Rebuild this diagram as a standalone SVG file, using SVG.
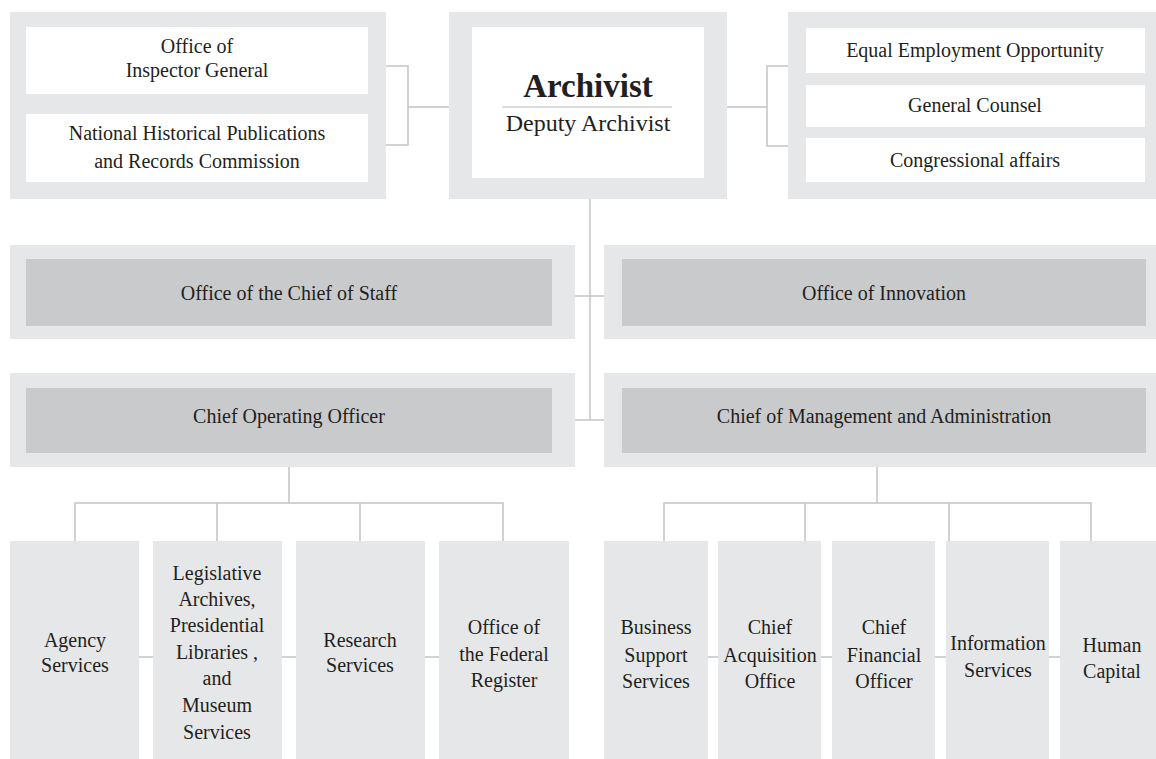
<svg xmlns="http://www.w3.org/2000/svg" width="1156" height="759" viewBox="0 0 1156 759">
  <style>
    .frame { fill: #e6e7e8; }
    .card { fill: #ffffff; }
    .band { fill: #c9cacc; }
    .unit { fill: #e6e7e8; }
    .link { fill: none; stroke: #c2c4c6; stroke-width: 1.5; }
    text { font-family: "Liberation Serif", "Times New Roman", serif; font-size: 20px; fill: #231f20; text-anchor: middle; }
    .head { font-size: 33px; font-weight: bold; }
    .sub { font-size: 24px; }
  </style>
  <rect width="1156" height="759" fill="#ffffff"/>

  <!-- connectors -->
  <g id="connectors" class="link">
    <!-- staff offices to archivist -->
    <path d="M386 66 H408 V145 H386 M408 107 H449"/>
    <path d="M727 107 H767 M788 66 H767 V146 H788"/>
    <!-- archivist trunk -->
    <path d="M590 199 V420"/>
    <path d="M575 296 H604"/>
    <path d="M575 420 H604"/>
    <!-- operations branch -->
    <path d="M289 467 V503 M75 541 V503 H503 V541 M217 503 V541 M360 503 V541"/>
    <path d="M139 657 H153 M282 657 H296 M425 657 H439"/>
    <!-- management branch -->
    <path d="M877 467 V503 M664 541 V503 H1091 V541 M805 503 V541 M949 503 V541"/>
    <path d="M708 657 H718 M821 657 H832 M935 657 H946 M1049 657 H1060"/>
  </g>

  <!-- top row -->
  <g id="staff-left">
    <rect class="frame" x="10" y="12" width="376" height="187"/>
    <rect class="card" x="26" y="27" width="342" height="67"/>
    <text x="197" y="53">Office of</text>
    <text x="197" y="77">Inspector General</text>
    <rect class="card" x="26" y="114" width="342" height="68"/>
    <text x="197" y="140">National Historical Publications</text>
    <text x="197" y="168">and Records Commission</text>
  </g>

  <g id="archivist">
    <rect class="frame" x="449" y="12" width="278" height="187"/>
    <rect class="card" x="472" y="27" width="232" height="151"/>
    <text class="head" x="588" y="97">Archivist</text>
    <line x1="502" y1="107" x2="672" y2="107" stroke="#b8babc" stroke-width="1.2"/>
    <text class="sub" x="588" y="131">Deputy Archivist</text>
  </g>

  <g id="staff-right">
    <rect class="frame" x="788" y="12" width="368" height="187"/>
    <rect class="card" x="806" y="28" width="339" height="45"/>
    <text x="975" y="57">Equal Employment Opportunity</text>
    <rect class="card" x="806" y="85" width="339" height="42"/>
    <text x="975" y="112">General Counsel</text>
    <rect class="card" x="806" y="138" width="339" height="44"/>
    <text x="975" y="167">Congressional affairs</text>
  </g>

  <!-- middle bands -->
  <g id="chief-of-staff">
    <rect class="frame" x="10" y="245" width="565" height="94"/>
    <rect class="band" x="26" y="259" width="526" height="67"/>
    <text x="289" y="300">Office of the Chief of Staff</text>
  </g>
  <g id="innovation">
    <rect class="frame" x="604" y="245" width="552" height="94"/>
    <rect class="band" x="622" y="259" width="524" height="67"/>
    <text x="884" y="300">Office of Innovation</text>
  </g>
  <g id="coo">
    <rect class="frame" x="10" y="373" width="565" height="94"/>
    <rect class="band" x="26" y="388" width="526" height="65"/>
    <text x="289" y="423">Chief Operating Officer</text>
  </g>
  <g id="cma">
    <rect class="frame" x="604" y="373" width="552" height="94"/>
    <rect class="band" x="622" y="388" width="524" height="65"/>
    <text x="884" y="423">Chief of Management and Administration</text>
  </g>

  <!-- operations units -->
  <g id="agency-services">
    <rect class="unit" x="10" y="541" width="129" height="218"/>
    <text x="75" y="647">Agency</text>
    <text x="75" y="672">Services</text>
  </g>
  <g id="legislative-archives">
    <rect class="unit" x="153" y="541" width="129" height="218"/>
    <text x="217" y="580">Legislative</text>
    <text x="217" y="606">Archives,</text>
    <text x="217" y="632">Presidential</text>
    <text x="217" y="659">Libraries ,</text>
    <text x="217" y="685">and</text>
    <text x="217" y="712">Museum</text>
    <text x="217" y="739">Services</text>
  </g>
  <g id="research-services">
    <rect class="unit" x="296" y="541" width="129" height="218"/>
    <text x="360" y="647">Research</text>
    <text x="360" y="672">Services</text>
  </g>
  <g id="federal-register">
    <rect class="unit" x="439" y="541" width="130" height="218"/>
    <text x="504" y="634">Office of</text>
    <text x="504" y="661">the Federal</text>
    <text x="504" y="687">Register</text>
  </g>

  <!-- management units -->
  <g id="business-support">
    <rect class="unit" x="604" y="541" width="104" height="218"/>
    <text x="656" y="634">Business</text>
    <text x="656" y="662">Support</text>
    <text x="656" y="688">Services</text>
  </g>
  <g id="acquisition">
    <rect class="unit" x="718" y="541" width="103" height="218"/>
    <text x="770" y="634">Chief</text>
    <text x="770" y="662">Acquisition</text>
    <text x="770" y="688">Office</text>
  </g>
  <g id="financial">
    <rect class="unit" x="832" y="541" width="103" height="218"/>
    <text x="884" y="634">Chief</text>
    <text x="884" y="662">Financial</text>
    <text x="884" y="688">Officer</text>
  </g>
  <g id="information-services">
    <rect class="unit" x="946" y="541" width="103" height="218"/>
    <text x="998" y="650">Information</text>
    <text x="998" y="677">Services</text>
  </g>
  <g id="human-capital">
    <rect class="unit" x="1060" y="541" width="104" height="218"/>
    <text x="1112" y="652">Human</text>
    <text x="1112" y="678">Capital</text>
  </g>
</svg>
